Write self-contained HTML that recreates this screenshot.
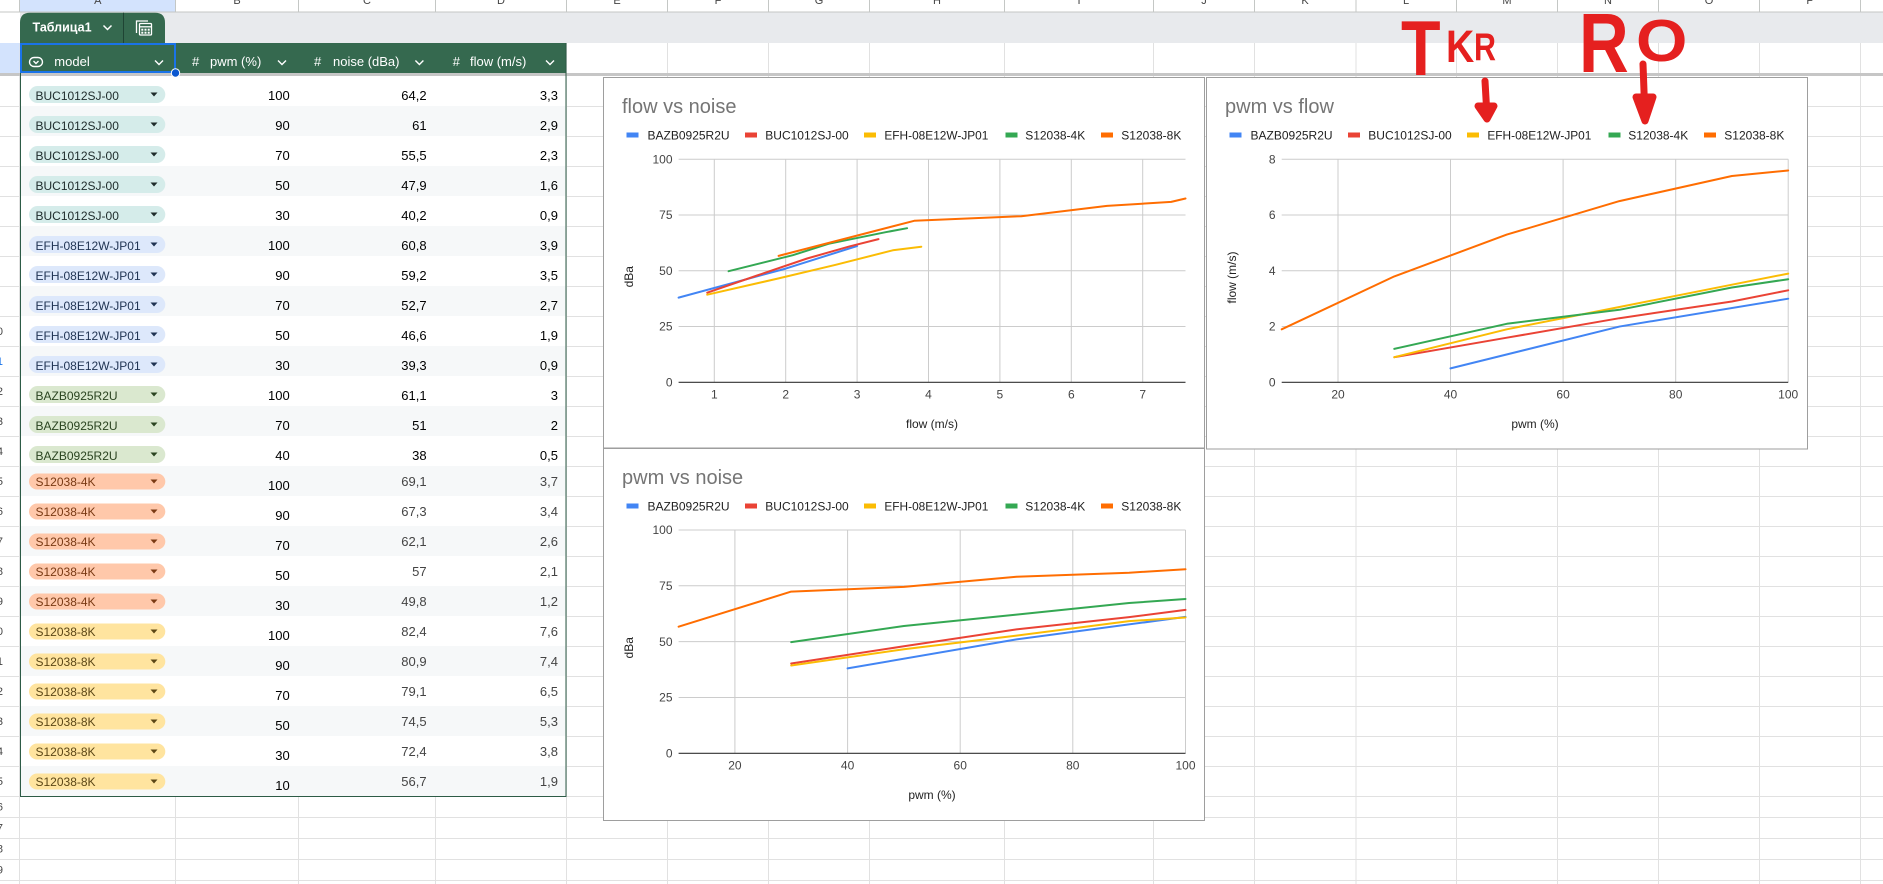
<!DOCTYPE html>
<html><head><meta charset="utf-8">
<style>
html,body{margin:0;padding:0;width:1883px;height:884px;overflow:hidden;background:#fff}
svg{display:block}
text{font-family:"Liberation Sans",Arial,sans-serif}
</style></head>
<body>
<svg width="1883" height="884" viewBox="0 0 1883 884" xmlns="http://www.w3.org/2000/svg">
<rect x="0" y="0" width="1883" height="884" fill="#fff"/>

<!-- cell gridlines -->
<g stroke="#e1e1e1" stroke-width="1" fill="none">
<path d="M19.5,43V884 M175.5,797V884 M298.5,797V884 M435.5,797V884 M566.5,43V884 M667.5,43V884 M768.5,43V884 M869.5,43V884 M1004.5,43V884 M1153.5,43V884 M1254.5,43V884 M1356,43V884 M1456.5,43V884 M1557.5,43V884 M1658.5,43V884 M1759.5,43V884 M1860.5,43V884"/>
<path d="M0,106.5H1883 M0,136.5H1883 M0,166.5H1883 M0,196.5H1883 M0,226.5H1883 M0,256.5H1883 M0,286.5H1883 M0,316.5H1883 M0,346.5H1883 M0,376.5H1883 M0,406.5H1883 M0,436.5H1883 M0,466.5H1883 M0,496.5H1883 M0,526.5H1883 M0,556.5H1883 M0,586.5H1883 M0,616.5H1883 M0,646.5H1883 M0,676.5H1883 M0,706.5H1883 M0,736.5H1883 M0,766.5H1883 M0,796.5H1883 M0,817.5H1883 M0,838.5H1883 M0,859.5H1883 M0,880.5H1883"/>
</g>

<!-- column header row -->
<rect x="0" y="0" width="1883" height="12" fill="#fff"/>
<rect x="20" y="0" width="155.5" height="12" fill="#d3e3fd"/>
<g stroke="#c4c7c5" stroke-width="1">
<path d="M19.5,0V12 M175.5,0V12 M298.5,0V12 M435.5,0V12 M566.5,0V12 M667.5,0V12 M768.5,0V12 M869.5,0V12 M1004.5,0V12 M1153.5,0V12 M1254.5,0V12 M1356,0V12 M1456.5,0V12 M1557.5,0V12 M1658.5,0V12 M1759.5,0V12 M1860.5,0V12 M0,12H1883"/>
</g>
<g font-size="11" fill="#444" text-anchor="middle">
<text x="97.75" y="4">A</text><text x="237" y="4">B</text><text x="367" y="4">C</text><text x="501" y="4">D</text>
<text x="617" y="4">E</text><text x="718" y="4">F</text><text x="819" y="4">G</text><text x="937" y="4">H</text>
<text x="1079" y="4">I</text><text x="1204" y="4">J</text><text x="1305" y="4">K</text><text x="1406" y="4">L</text>
<text x="1507" y="4">M</text><text x="1608" y="4">N</text><text x="1709" y="4">O</text><text x="1810" y="4">P</text>
</g>

<!-- gray band -->
<rect x="20" y="12.5" width="1863" height="30.5" fill="#e8eaed"/>
<!-- header row left highlight -->
<rect x="0" y="43" width="19.5" height="30" fill="#d3e3fd"/>

<!-- table tab -->
<path d="M20,43 V22.7 Q20,12.7 30,12.7 H155 Q165,12.7 165,22.7 V43 Z" fill="#35694f"/>
<text x="32.5" y="31.7" font-size="12.5" font-weight="bold" fill="#fff">Таблица1</text>
<polyline points="103.5,25.5 107.5,29.5 111.5,25.5" stroke="#fff" stroke-width="1.5" fill="none"/>
<line x1="123.5" y1="12.7" x2="123.5" y2="43" stroke="#1f4434" stroke-width="1"/>
<g stroke="#fff" stroke-width="1.3" fill="none">
<path d="M136.5,33 V21 H148"/>
<rect x="139.5" y="23.5" width="12" height="11.5" rx="1"/>
<line x1="139.5" y1="26.8" x2="151.5" y2="26.8"/>
</g>
<g fill="#fff">
<rect x="141.3" y="28.7" width="2" height="2"/><rect x="144.5" y="28.7" width="2" height="2"/><rect x="147.7" y="28.7" width="2" height="2"/>
<rect x="141.3" y="31.7" width="2" height="2"/><rect x="144.5" y="31.7" width="2" height="2"/><rect x="147.7" y="31.7" width="2" height="2"/>
</g>

<!-- table header -->
<rect x="20" y="43" width="546.5" height="30" fill="#35694f"/>
<g fill="#fff" font-size="13">
<text x="54.3" y="66">model</text>
<text x="192" y="66">#</text><text x="210" y="66">pwm (%)</text>
<text x="314" y="66">#</text><text x="333" y="66">noise (dBa)</text>
<text x="452.7" y="66">#</text><text x="470" y="66">flow (m/s)</text>
</g>
<g stroke="#fff" stroke-width="1.4" fill="none">
<rect x="29.5" y="57.5" width="13" height="9" rx="4.5"/>
<polyline points="33.5,61 36,63.5 38.5,61"/>
<polyline points="155,60.5 159,64.5 163,60.5"/>
<polyline points="278,60.5 282,64.5 286,60.5"/>
<polyline points="415.4,60.5 419.4,64.5 423.4,60.5"/>
<polyline points="546,60.5 550,64.5 554,60.5"/>
</g>

<!-- frozen separator -->
<rect x="0" y="73" width="1883" height="3" fill="#c6c6c6"/>

<!-- table body -->
<rect x="20" y="76" width="546.5" height="720.5" fill="#fff"/>
<g fill="#f6f8f9">
<rect x="20" y="106" width="546.5" height="30"/><rect x="20" y="166" width="546.5" height="30"/>
<rect x="20" y="226" width="546.5" height="30"/><rect x="20" y="286" width="546.5" height="30"/>
<rect x="20" y="346" width="546.5" height="30"/><rect x="20" y="406" width="546.5" height="30"/>
<rect x="20" y="466" width="546.5" height="30"/><rect x="20" y="526" width="546.5" height="30"/>
<rect x="20" y="586" width="546.5" height="30"/><rect x="20" y="646" width="546.5" height="30"/>
<rect x="20" y="706" width="546.5" height="30"/><rect x="20" y="766" width="546.5" height="30"/>
</g>

<!-- BUC rows -->
<g font-size="12">
<g transform="translate(0,76)"><rect x="29" y="10" width="136.3" height="17" rx="8.5" fill="#d5ecea"/><text x="35.5" y="24" fill="#1e2b2b">BUC1012SJ-00</text><path d="M150.5,16.5 L157.5,16.5 L154,20.5Z" fill="#1e2b2b"/></g>
<g transform="translate(0,106)"><rect x="29" y="10" width="136.3" height="17" rx="8.5" fill="#d5ecea"/><text x="35.5" y="24" fill="#1e2b2b">BUC1012SJ-00</text><path d="M150.5,16.5 L157.5,16.5 L154,20.5Z" fill="#1e2b2b"/></g>
<g transform="translate(0,136)"><rect x="29" y="10" width="136.3" height="17" rx="8.5" fill="#d5ecea"/><text x="35.5" y="24" fill="#1e2b2b">BUC1012SJ-00</text><path d="M150.5,16.5 L157.5,16.5 L154,20.5Z" fill="#1e2b2b"/></g>
<g transform="translate(0,166)"><rect x="29" y="10" width="136.3" height="17" rx="8.5" fill="#d5ecea"/><text x="35.5" y="24" fill="#1e2b2b">BUC1012SJ-00</text><path d="M150.5,16.5 L157.5,16.5 L154,20.5Z" fill="#1e2b2b"/></g>
<g transform="translate(0,196)"><rect x="29" y="10" width="136.3" height="17" rx="8.5" fill="#d5ecea"/><text x="35.5" y="24" fill="#1e2b2b">BUC1012SJ-00</text><path d="M150.5,16.5 L157.5,16.5 L154,20.5Z" fill="#1e2b2b"/></g>
<!-- EFH rows -->
<g transform="translate(0,226)"><rect x="29" y="10" width="136.3" height="17" rx="8.5" fill="#dde8fb"/><text x="35.5" y="24" fill="#1f3352">EFH-08E12W-JP01</text><path d="M150.5,16.5 L157.5,16.5 L154,20.5Z" fill="#1f3352"/></g>
<g transform="translate(0,256)"><rect x="29" y="10" width="136.3" height="17" rx="8.5" fill="#dde8fb"/><text x="35.5" y="24" fill="#1f3352">EFH-08E12W-JP01</text><path d="M150.5,16.5 L157.5,16.5 L154,20.5Z" fill="#1f3352"/></g>
<g transform="translate(0,286)"><rect x="29" y="10" width="136.3" height="17" rx="8.5" fill="#dde8fb"/><text x="35.5" y="24" fill="#1f3352">EFH-08E12W-JP01</text><path d="M150.5,16.5 L157.5,16.5 L154,20.5Z" fill="#1f3352"/></g>
<g transform="translate(0,316)"><rect x="29" y="10" width="136.3" height="17" rx="8.5" fill="#dde8fb"/><text x="35.5" y="24" fill="#1f3352">EFH-08E12W-JP01</text><path d="M150.5,16.5 L157.5,16.5 L154,20.5Z" fill="#1f3352"/></g>
<g transform="translate(0,346)"><rect x="29" y="10" width="136.3" height="17" rx="8.5" fill="#dde8fb"/><text x="35.5" y="24" fill="#1f3352">EFH-08E12W-JP01</text><path d="M150.5,16.5 L157.5,16.5 L154,20.5Z" fill="#1f3352"/></g>
<!-- BAZB rows -->
<g transform="translate(0,376)"><rect x="29" y="10" width="136.3" height="17" rx="8.5" fill="#dae8cf"/><text x="35.5" y="24" fill="#2a4420">BAZB0925R2U</text><path d="M150.5,16.5 L157.5,16.5 L154,20.5Z" fill="#2a4420"/></g>
<g transform="translate(0,406)"><rect x="29" y="10" width="136.3" height="17" rx="8.5" fill="#dae8cf"/><text x="35.5" y="24" fill="#2a4420">BAZB0925R2U</text><path d="M150.5,16.5 L157.5,16.5 L154,20.5Z" fill="#2a4420"/></g>
<g transform="translate(0,436)"><rect x="29" y="10" width="136.3" height="17" rx="8.5" fill="#dae8cf"/><text x="35.5" y="24" fill="#2a4420">BAZB0925R2U</text><path d="M150.5,16.5 L157.5,16.5 L154,20.5Z" fill="#2a4420"/></g>
<!-- S12038-4K rows -->
<g transform="translate(0,466)"><rect x="29" y="7.5" width="136.3" height="16" rx="8" fill="#ffc8aa"/><text x="35.5" y="20" fill="#7a3a14">S12038-4K</text><path d="M150.5,13.5 L157.5,13.5 L154,17.5Z" fill="#7a3a14"/></g>
<g transform="translate(0,496)"><rect x="29" y="7.5" width="136.3" height="16" rx="8" fill="#ffc8aa"/><text x="35.5" y="20" fill="#7a3a14">S12038-4K</text><path d="M150.5,13.5 L157.5,13.5 L154,17.5Z" fill="#7a3a14"/></g>
<g transform="translate(0,526)"><rect x="29" y="7.5" width="136.3" height="16" rx="8" fill="#ffc8aa"/><text x="35.5" y="20" fill="#7a3a14">S12038-4K</text><path d="M150.5,13.5 L157.5,13.5 L154,17.5Z" fill="#7a3a14"/></g>
<g transform="translate(0,556)"><rect x="29" y="7.5" width="136.3" height="16" rx="8" fill="#ffc8aa"/><text x="35.5" y="20" fill="#7a3a14">S12038-4K</text><path d="M150.5,13.5 L157.5,13.5 L154,17.5Z" fill="#7a3a14"/></g>
<g transform="translate(0,586)"><rect x="29" y="7.5" width="136.3" height="16" rx="8" fill="#ffc8aa"/><text x="35.5" y="20" fill="#7a3a14">S12038-4K</text><path d="M150.5,13.5 L157.5,13.5 L154,17.5Z" fill="#7a3a14"/></g>
<!-- S12038-8K rows -->
<g transform="translate(0,616)"><rect x="29" y="7.5" width="136.3" height="16" rx="8" fill="#ffe49f"/><text x="35.5" y="20" fill="#5c4716">S12038-8K</text><path d="M150.5,13.5 L157.5,13.5 L154,17.5Z" fill="#5c4716"/></g>
<g transform="translate(0,646)"><rect x="29" y="7.5" width="136.3" height="16" rx="8" fill="#ffe49f"/><text x="35.5" y="20" fill="#5c4716">S12038-8K</text><path d="M150.5,13.5 L157.5,13.5 L154,17.5Z" fill="#5c4716"/></g>
<g transform="translate(0,676)"><rect x="29" y="7.5" width="136.3" height="16" rx="8" fill="#ffe49f"/><text x="35.5" y="20" fill="#5c4716">S12038-8K</text><path d="M150.5,13.5 L157.5,13.5 L154,17.5Z" fill="#5c4716"/></g>
<g transform="translate(0,706)"><rect x="29" y="7.5" width="136.3" height="16" rx="8" fill="#ffe49f"/><text x="35.5" y="20" fill="#5c4716">S12038-8K</text><path d="M150.5,13.5 L157.5,13.5 L154,17.5Z" fill="#5c4716"/></g>
<g transform="translate(0,736)"><rect x="29" y="7.5" width="136.3" height="16" rx="8" fill="#ffe49f"/><text x="35.5" y="20" fill="#5c4716">S12038-8K</text><path d="M150.5,13.5 L157.5,13.5 L154,17.5Z" fill="#5c4716"/></g>
<g transform="translate(0,766)"><rect x="29" y="7.5" width="136.3" height="16" rx="8" fill="#ffe49f"/><text x="35.5" y="20" fill="#5c4716">S12038-8K</text><path d="M150.5,13.5 L157.5,13.5 L154,17.5Z" fill="#5c4716"/></g>
</g>

<!-- numeric cells -->
<g font-size="13" fill="#000" text-anchor="end">
<text x="289.7" y="100">100</text><text x="426.6" y="100">64,2</text><text x="558" y="100">3,3</text>
<text x="289.7" y="130">90</text><text x="426.6" y="130">61</text><text x="558" y="130">2,9</text>
<text x="289.7" y="160">70</text><text x="426.6" y="160">55,5</text><text x="558" y="160">2,3</text>
<text x="289.7" y="190">50</text><text x="426.6" y="190">47,9</text><text x="558" y="190">1,6</text>
<text x="289.7" y="220">30</text><text x="426.6" y="220">40,2</text><text x="558" y="220">0,9</text>
<text x="289.7" y="250">100</text><text x="426.6" y="250">60,8</text><text x="558" y="250">3,9</text>
<text x="289.7" y="280">90</text><text x="426.6" y="280">59,2</text><text x="558" y="280">3,5</text>
<text x="289.7" y="310">70</text><text x="426.6" y="310">52,7</text><text x="558" y="310">2,7</text>
<text x="289.7" y="340">50</text><text x="426.6" y="340">46,6</text><text x="558" y="340">1,9</text>
<text x="289.7" y="370">30</text><text x="426.6" y="370">39,3</text><text x="558" y="370">0,9</text>
<text x="289.7" y="400">100</text><text x="426.6" y="400">61,1</text><text x="558" y="400">3</text>
<text x="289.7" y="430">70</text><text x="426.6" y="430">51</text><text x="558" y="430">2</text>
<text x="289.7" y="460">40</text><text x="426.6" y="460">38</text><text x="558" y="460">0,5</text>
<text x="289.7" y="490">100</text>
<text x="289.7" y="520">90</text>
<text x="289.7" y="550">70</text>
<text x="289.7" y="580">50</text>
<text x="289.7" y="610">30</text>
<text x="289.7" y="640">100</text>
<text x="289.7" y="670">90</text>
<text x="289.7" y="700">70</text>
<text x="289.7" y="730">50</text>
<text x="289.7" y="760">30</text>
<text x="289.7" y="790">10</text>
</g>
<g font-size="13" fill="#444" text-anchor="end">
<text x="426.6" y="486">69,1</text><text x="558" y="486">3,7</text>
<text x="426.6" y="516">67,3</text><text x="558" y="516">3,4</text>
<text x="426.6" y="546">62,1</text><text x="558" y="546">2,6</text>
<text x="426.6" y="576">57</text><text x="558" y="576">2,1</text>
<text x="426.6" y="606">49,8</text><text x="558" y="606">1,2</text>
<text x="426.6" y="636">82,4</text><text x="558" y="636">7,6</text>
<text x="426.6" y="666">80,9</text><text x="558" y="666">7,4</text>
<text x="426.6" y="696">79,1</text><text x="558" y="696">6,5</text>
<text x="426.6" y="726">74,5</text><text x="558" y="726">5,3</text>
<text x="426.6" y="756">72,4</text><text x="558" y="756">3,8</text>
<text x="426.6" y="786">56,7</text><text x="558" y="786">1,9</text>
</g>

<!-- table border -->
<g stroke="#2d5b46" stroke-width="1" fill="none">
<path d="M20.5,43V797 M566,43V797 M20,796.5H566.5"/>
</g>

<!-- selection -->
<rect x="21" y="44" width="154" height="28" stroke="#1a73e8" stroke-width="2" fill="none"/>
<circle cx="175.5" cy="73" r="4.2" fill="#0b57d0" stroke="#fff" stroke-width="1"/>

<!-- row number last digits -->
<g font-size="11" fill="#444" text-anchor="end">
<text x="3" y="335">0</text><text x="3" y="365" fill="#1a73e8">1</text><text x="3" y="395">2</text><text x="3" y="425">3</text>
<text x="3" y="455">4</text><text x="3" y="485">5</text><text x="3" y="515">6</text><text x="3" y="545">7</text>
<text x="3" y="575">8</text><text x="3" y="605">9</text><text x="3" y="635">0</text><text x="3" y="665">1</text>
<text x="3" y="695">2</text><text x="3" y="725">3</text><text x="3" y="755">4</text><text x="3" y="785">5</text>
<text x="3" y="810.5">6</text><text x="3" y="831.5">7</text><text x="3" y="852.5">8</text><text x="3" y="873.5">9</text>
</g>

<!-- ================= CHART 1: flow vs noise ================= -->
<rect x="603.5" y="77.5" width="601" height="370.5" fill="#fff" stroke="#9e9e9e" stroke-width="1"/>
<text x="622" y="113" font-size="20" fill="#757575">flow vs noise</text>
<g font-size="12" fill="#222">
<rect x="626.5" y="132.5" width="12" height="5" fill="#4285f4"/><text x="647.5" y="139.4">BAZB0925R2U</text>
<rect x="745" y="132.5" width="12" height="5" fill="#ea4335"/><text x="765.3" y="139.4">BUC1012SJ-00</text>
<rect x="864" y="132.5" width="12" height="5" fill="#fbbc04"/><text x="884.4" y="139.4" textLength="104" lengthAdjust="spacingAndGlyphs">EFH-08E12W-JP01</text>
<rect x="1005.5" y="132.5" width="12" height="5" fill="#34a853"/><text x="1025.2" y="139.4">S12038-4K</text>
<rect x="1101" y="132.5" width="12" height="5" fill="#ff6d01"/><text x="1121.3" y="139.4">S12038-8K</text>
</g>
<g stroke="#cccccc" stroke-width="1" fill="none">
<path d="M678.6,159.3H1185.5 M678.6,215.05H1185.5 M678.6,270.8H1185.5 M678.6,326.5H1185.5"/>
<path d="M714.3,159.3V382.3 M785.7,159.3V382.3 M857.1,159.3V382.3 M928.5,159.3V382.3 M999.9,159.3V382.3 M1071.3,159.3V382.3 M1142.7,159.3V382.3"/>
</g>
<line x1="678.6" y1="382.3" x2="1185.5" y2="382.3" stroke="#333" stroke-width="1.2"/>
<g font-size="12" fill="#444" text-anchor="end">
<text x="672.5" y="163.5">100</text><text x="672.5" y="219.2">75</text><text x="672.5" y="275">50</text><text x="672.5" y="330.7">25</text><text x="672.5" y="386.5">0</text>
</g>
<g font-size="12" fill="#444" text-anchor="middle">
<text x="714.3" y="398.5">1</text><text x="785.7" y="398.5">2</text><text x="857.1" y="398.5">3</text><text x="928.5" y="398.5">4</text><text x="999.9" y="398.5">5</text><text x="1071.3" y="398.5">6</text><text x="1142.7" y="398.5">7</text>
</g>
<text x="932" y="428" font-size="12" fill="#222" text-anchor="middle">flow (m/s)</text>
<text transform="translate(633,276.7) rotate(-90)" font-size="12" fill="#222" text-anchor="middle">dBa</text>
<g fill="none" stroke-width="2" stroke-linejoin="round" stroke-linecap="round">
<polyline stroke="#4285f4" points="857.1,246.0 785.7,268.6 678.6,297.6"/>
<polyline stroke="#ea4335" points="878.5,239.1 849.9,246.3 807.1,258.5 757.1,275.5 707.2,292.7"/>
<polyline stroke="#fbbc04" points="921.3,246.7 892.8,250.3 835.7,264.8 778.6,278.4 707.2,294.7"/>
<polyline stroke="#34a853" points="907.1,228.2 885.6,232.2 828.5,243.8 792.8,255.2 728.6,271.2"/>
<polyline stroke="#ff6d01" points="1185.5,198.5 1171.2,201.9 1107.0,205.9 1021.3,216.2 914.2,220.8 778.6,255.9"/>
</g>

<!-- ================= CHART 2: pwm vs flow ================= -->
<rect x="1206.5" y="77.5" width="601" height="371.5" fill="#fff" stroke="#9e9e9e" stroke-width="1"/>
<text x="1225" y="113" font-size="20" fill="#757575">pwm vs flow</text>
<g font-size="12" fill="#222">
<rect x="1229.5" y="132.5" width="12" height="5" fill="#4285f4"/><text x="1250.5" y="139.4">BAZB0925R2U</text>
<rect x="1348" y="132.5" width="12" height="5" fill="#ea4335"/><text x="1368.3" y="139.4">BUC1012SJ-00</text>
<rect x="1467" y="132.5" width="12" height="5" fill="#fbbc04"/><text x="1487.4" y="139.4" textLength="104" lengthAdjust="spacingAndGlyphs">EFH-08E12W-JP01</text>
<rect x="1608.5" y="132.5" width="12" height="5" fill="#34a853"/><text x="1628.2" y="139.4">S12038-4K</text>
<rect x="1704" y="132.5" width="12" height="5" fill="#ff6d01"/><text x="1724.3" y="139.4">S12038-8K</text>
</g>
<g stroke="#cccccc" stroke-width="1" fill="none">
<path d="M1281.7,159.3H1788.2 M1281.7,215.05H1788.2 M1281.7,270.8H1788.2 M1281.7,326.55H1788.2"/>
<path d="M1338.0,159.3V382.3 M1450.5,159.3V382.3 M1563.1,159.3V382.3 M1675.7,159.3V382.3 M1788.2,159.3V382.3"/>
</g>
<line x1="1281.7" y1="382.3" x2="1788.2" y2="382.3" stroke="#333" stroke-width="1.2"/>
<g font-size="12" fill="#444" text-anchor="end">
<text x="1275.5" y="163.5">8</text><text x="1275.5" y="219.2">6</text><text x="1275.5" y="275">4</text><text x="1275.5" y="330.7">2</text><text x="1275.5" y="386.5">0</text>
</g>
<g font-size="12" fill="#444" text-anchor="middle">
<text x="1338.0" y="398.5">20</text><text x="1450.5" y="398.5">40</text><text x="1563.1" y="398.5">60</text><text x="1675.7" y="398.5">80</text><text x="1788.2" y="398.5">100</text>
</g>
<text x="1535" y="428" font-size="12" fill="#222" text-anchor="middle">pwm (%)</text>
<text transform="translate(1236,277.5) rotate(-90)" font-size="12" fill="#222" text-anchor="middle">flow (m/s)</text>
<g fill="none" stroke-width="2" stroke-linejoin="round" stroke-linecap="round">
<polyline stroke="#4285f4" points="1788.2,298.7 1619.4,326.55 1450.5,368.4"/>
<polyline stroke="#ea4335" points="1788.2,290.3 1731.9,301.5 1619.4,318.2 1506.8,337.7 1394.3,357.2"/>
<polyline stroke="#fbbc04" points="1788.2,273.6 1731.9,284.7 1619.4,307.0 1506.8,329.3 1394.3,357.2"/>
<polyline stroke="#34a853" points="1788.2,279.2 1731.9,287.5 1619.4,309.8 1506.8,323.8 1394.3,348.85"/>
<polyline stroke="#ff6d01" points="1788.2,170.45 1731.9,176.0 1619.4,201.1 1506.8,234.6 1394.3,276.4 1281.7,329.3"/>
</g>

<!-- ================= CHART 3: pwm vs noise ================= -->
<rect x="603.5" y="448.5" width="601" height="372" fill="#fff" stroke="#9e9e9e" stroke-width="1"/>
<text x="622" y="484" font-size="20" fill="#757575">pwm vs noise</text>
<g font-size="12" fill="#222">
<rect x="626.5" y="503.5" width="12" height="5" fill="#4285f4"/><text x="647.5" y="510.3">BAZB0925R2U</text>
<rect x="745" y="503.5" width="12" height="5" fill="#ea4335"/><text x="765.3" y="510.3">BUC1012SJ-00</text>
<rect x="864" y="503.5" width="12" height="5" fill="#fbbc04"/><text x="884.4" y="510.3" textLength="104" lengthAdjust="spacingAndGlyphs">EFH-08E12W-JP01</text>
<rect x="1005.5" y="503.5" width="12" height="5" fill="#34a853"/><text x="1025.2" y="510.3">S12038-4K</text>
<rect x="1101" y="503.5" width="12" height="5" fill="#ff6d01"/><text x="1121.3" y="510.3">S12038-8K</text>
</g>
<g stroke="#cccccc" stroke-width="1" fill="none">
<path d="M678.6,530H1185.5 M678.6,585.8H1185.5 M678.6,641.65H1185.5 M678.6,697.5H1185.5"/>
<path d="M734.9,530V753.3 M847.6,530V753.3 M960.2,530V753.3 M1072.8,530V753.3 M1185.5,530V753.3"/>
</g>
<line x1="678.6" y1="753.3" x2="1185.5" y2="753.3" stroke="#333" stroke-width="1.2"/>
<g font-size="12" fill="#444" text-anchor="end">
<text x="672.5" y="534.2">100</text><text x="672.5" y="590">75</text><text x="672.5" y="645.9">50</text><text x="672.5" y="701.7">25</text><text x="672.5" y="757.5">0</text>
</g>
<g font-size="12" fill="#444" text-anchor="middle">
<text x="734.9" y="769.5">20</text><text x="847.6" y="769.5">40</text><text x="960.2" y="769.5">60</text><text x="1072.8" y="769.5">80</text><text x="1185.5" y="769.5">100</text>
</g>
<text x="932" y="799" font-size="12" fill="#222" text-anchor="middle">pwm (%)</text>
<text transform="translate(633,647.8) rotate(-90)" font-size="12" fill="#222" text-anchor="middle">dBa</text>
<g fill="none" stroke-width="2" stroke-linejoin="round" stroke-linecap="round">
<polyline stroke="#4285f4" points="1185.5,616.9 1016.5,639.4 847.6,668.4"/>
<polyline stroke="#ea4335" points="1185.5,609.9 1129.1,617.1 1016.5,629.4 903.9,646.3 791.2,663.5"/>
<polyline stroke="#fbbc04" points="1185.5,617.5 1129.1,621.1 1016.5,635.6 903.9,649.2 791.2,665.5"/>
<polyline stroke="#34a853" points="1185.5,599.0 1129.1,603.0 1016.5,614.6 903.9,626.0 791.2,642.1"/>
<polyline stroke="#ff6d01" points="1185.5,569.3 1129.1,572.7 1016.5,576.7 903.9,586.9 791.2,591.6 678.6,626.7"/>
</g>

<!-- ================= red hand annotations ================= -->
<g fill="#e5201f" font-weight="bold">
<text transform="translate(1401,75) scale(0.83,1)" font-size="78">T</text>
<text transform="translate(1446,62) scale(0.87,1)" font-size="45">K</text>
<text transform="translate(1474,60) scale(0.78,1)" font-size="39">R</text>
<text transform="translate(1579,72) scale(0.82,1)" font-size="84">R</text>
<text transform="translate(1636,61) scale(1.12,1)" font-size="59">O</text>
</g>
<g stroke="#e5201f" stroke-width="7" stroke-linecap="round" stroke-linejoin="round" fill="#e5201f">
<path d="M1485,81 L1487,116" fill="none"/>
<path d="M1478,106 L1487,119 L1494,106 Z"/>
<path d="M1643,64 L1645,118" fill="none"/>
<path d="M1636,97 L1645,121 L1653,97 Z"/>
</g>
</svg>
</body></html>
